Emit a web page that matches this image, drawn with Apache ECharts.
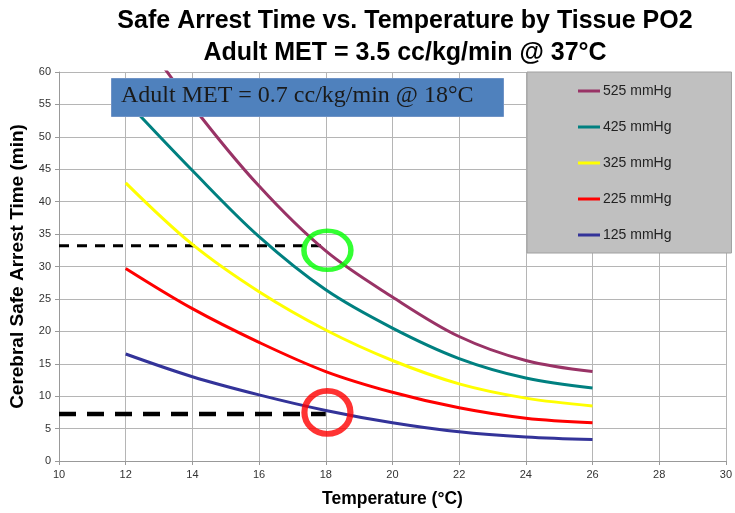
<!DOCTYPE html>
<html>
<head>
<meta charset="utf-8">
<script src="https://cdn.jsdelivr.net/npm/echarts@6/dist/echarts.min.js"></script>
<style>html,body{margin:0;padding:0;background:#fff}#c{width:735px;height:513px}</style>
</head>
<body>
<div id="c"></div>
<script>
var temps = [12, 14, 16, 18, 20, 22, 24, 26];
var s525 = [69.0, 54.8, 42.4, 32.4, 25.3, 19.2, 15.5, 13.8];
var s425 = [55.6, 44.8, 34.6, 26.4, 20.5, 15.8, 12.8, 11.25];
var s325 = [42.9, 33.4, 26.1, 20.2, 15.5, 11.9, 9.7, 8.5];
var s225 = [29.7, 23.5, 18.3, 13.8, 10.6, 8.2, 6.6, 5.9];
var s125 = [16.5, 13.0, 10.2, 7.8, 5.9, 4.5, 3.7, 3.3];
var seriesNames = ['525 mmHg', '425 mmHg', '325 mmHg', '225 mmHg', '125 mmHg'];
var seriesColors = ['#993366', '#008080', '#FFFF00', '#FF0000', '#333399'];
var refTemp = 18;
var refHigh = 33.2;
var refLow = 7.25;
var circleHigh = [18.05, 32.5];
var circleLow = [18.05, 7.5];
var xTicks = {min: 10, max: 30, interval: 2};
var yTicks = {min: 0, max: 60, interval: 5};

function pairs(vals) { return temps.map(function (t, i) { return [t, vals[i]]; }); }
var allVals = [s525, s425, s325, s225, s125];

var series = allVals.map(function (v, i) {
  return {
    name: seriesNames[i], type: 'line', data: pairs(v), smooth: 0.35,
    showSymbol: false, symbol: 'none', clip: true,
    lineStyle: {color: seriesColors[i], width: 3},
    itemStyle: {color: seriesColors[i]}, z: 3
  };
});
series.push({
  type: 'line', data: [[xTicks.min, refHigh], [refTemp, refHigh]], symbol: 'none',
  lineStyle: {color: '#000', width: 3, type: [10, 8]}, z: 2, silent: true
});
series.push({
  type: 'line', data: [[xTicks.min, refLow], [refTemp, refLow]], symbol: 'none',
  lineStyle: {color: '#000', width: 4.5, type: [17, 11]}, z: 2, silent: true
});
series.push({
  type: 'scatter', data: [circleHigh], symbol: 'circle', symbolSize: [47, 39],
  itemStyle: {color: 'rgba(0,0,0,0)', borderColor: '#00FF00', borderWidth: 5}, z: 5, silent: true
});
series.push({
  type: 'scatter', data: [circleLow], symbol: 'circle', symbolSize: [46, 43],
  itemStyle: {color: 'rgba(0,0,0,0)', borderColor: '#FF0000', borderWidth: 6}, z: 5, silent: true
});

var chart = echarts.init(document.getElementById('c'), null, {renderer: 'canvas'});
chart.setOption({
  animation: false,
  backgroundColor: '#fff',
  title: {
    text: 'Safe Arrest Time vs. Temperature by Tissue PO2\nAdult MET = 3.5 cc/kg/min @ 37°C',
    left: 400, textAlign: 'center', top: 0,
    textStyle: {fontFamily: 'Liberation Sans, Arial', fontWeight: 'bold', fontSize: 25, lineHeight: 32, color: '#000'}
  },
  grid: {left: 57, right: 8, top: 72, bottom: 52, containLabel: false},
  legend: {
    data: seriesNames, orient: 'vertical', left: 527, top: 72,
    backgroundColor: '#C0C0C0', borderColor: '#A0A0A0', borderWidth: 1,
    padding: [12, 60, 11, 51], itemGap: 22, itemWidth: 22, itemHeight: 3, icon: 'rect',
    textStyle: {fontFamily: 'Liberation Sans, Arial', fontSize: 14, color: '#222', lineHeight: 14, padding: [0, 0, 0, -2]}
  },
  xAxis: {
    type: 'value', min: xTicks.min, max: xTicks.max, interval: xTicks.interval,
    name: 'Temperature (°C)', nameLocation: 'middle', nameGap: 29,
    nameTextStyle: {fontFamily: 'Liberation Sans, Arial', fontWeight: 'bold', fontSize: 17.5, color: '#000'},
    axisLine: {show: true, onZero: false, lineStyle: {color: '#999'}},
    axisTick: {show: true, length: 4, lineStyle: {color: '#999'}},
    axisLabel: {fontFamily: 'Liberation Sans, Arial', fontSize: 11, color: '#333', margin: 8},
    splitLine: {show: true, lineStyle: {color: '#B5B5B5', width: 1}}
  },
  yAxis: {
    type: 'value', min: yTicks.min, max: yTicks.max, interval: yTicks.interval,
    name: 'Cerebral Safe Arrest Time (min)', nameLocation: 'middle', nameGap: 32,
    nameTextStyle: {fontFamily: 'Liberation Sans, Arial', fontWeight: 'bold', fontSize: 19, color: '#000'},
    axisLine: {show: true, lineStyle: {color: '#999'}},
    axisTick: {show: true, length: 4, lineStyle: {color: '#999'}},
    axisLabel: {fontFamily: 'Liberation Sans, Arial', fontSize: 11, color: '#333', margin: 8},
    splitLine: {show: true, lineStyle: {color: '#B5B5B5', width: 1}}
  },
  graphic: [
    {type: 'rect', left: 111, top: 78, z: 100, zlevel: 1, shape: {width: 392, height: 38}, style: {fill: '#4F81BD', stroke: '#6f93c6', lineWidth: 1}},
    {type: 'text', left: 121, top: 84, z: 101, zlevel: 1, style: {text: 'Adult MET = 0.7 cc/kg/min @ 18°C', font: '24px "Liberation Serif", "DejaVu Serif", serif', fill: '#1a1a1a'}}
  ],
  series: series
});
</script>
</body>
</html>
